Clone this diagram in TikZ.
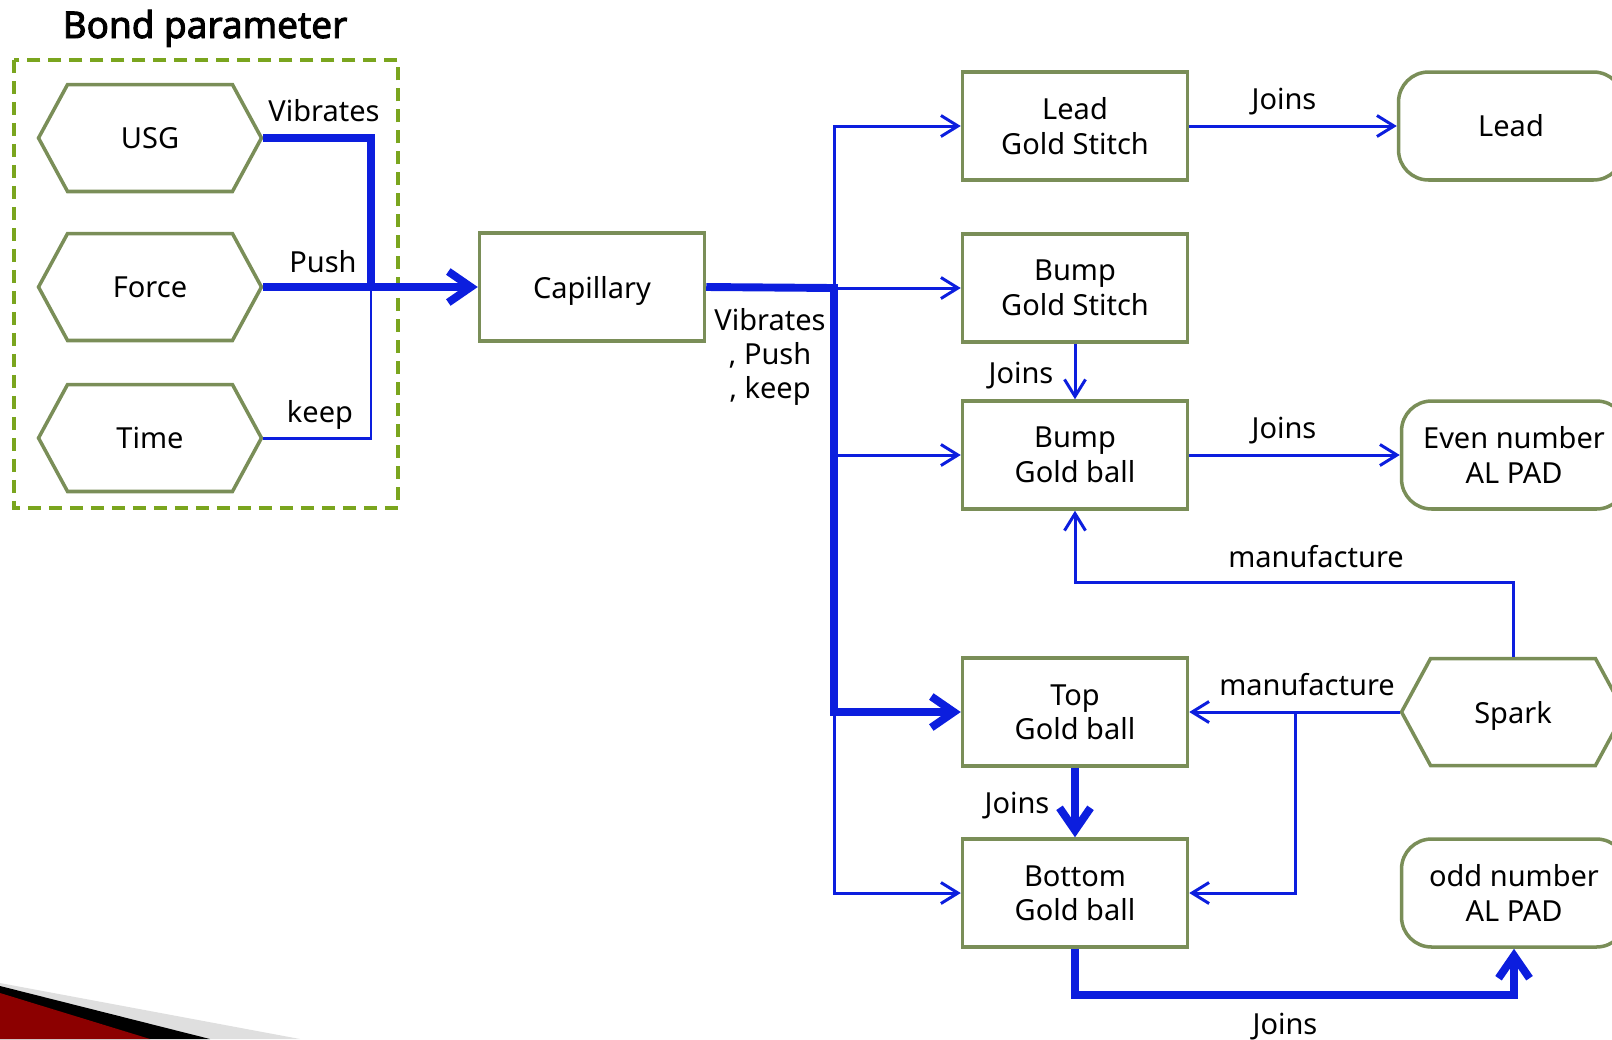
\documentclass[tikz,border=0pt]{standalone}
\usepackage{fontspec}
\setmainfont{Noto Sans}[AutoFakeBold=2.5]
\usetikzlibrary{shapes.symbols,arrows.meta}
\definecolor{olive}{RGB}{122,142,88}
\definecolor{leaf}{RGB}{122,165,30}
\definecolor{wire}{RGB}{12,30,222}
\tikzstyle{param}=[draw=olive, line width=2pt, signal, signal to=east and west, signal pointer angle=123, minimum width=4.46cm, minimum height=2.14cm, inner sep=0pt]
\tikzstyle{part}=[draw=olive, line width=2pt, rectangle, minimum width=4.5cm, minimum height=2.16cm, align=center]
\tikzstyle{target}=[part, rounded corners=0.6cm]
\tikzstyle{flow}=[draw=wire, line width=1.7pt, -{Straight Barb[length=0.34cm, width=0.42cm]}]
\tikzstyle{bus}=[draw=wire, line width=4.5pt]
\tikzstyle{bigflow}=[bus, -{Straight Barb[length=0.45cm, width=0.62cm]}]
\tikzstyle{lbl}=[inner sep=0pt]

\begin{document}
\begin{tikzpicture}[x=0.02cm, y=-0.02cm, font=\fontsize{16.5}{19.6}\selectfont]
	\useasboundingbox (0,0) rectangle (1612,1039);
	% corner swoosh
	\fill[gray!25] (0,983) -- (300,1039) -- (0,1039) -- cycle;
	\fill[black] (0,986) -- (210,1039) -- (0,1039) -- cycle;
	\fill[red!55!black] (0,993) -- (150,1039) -- (0,1039) -- cycle;
	% bond parameters
	\node[lbl, font=\fontsize{21}{24}\selectfont\bfseries, anchor=base] (title) at (205,38) {Bond parameter};
	\draw[leaf, line width=2.3pt, dash pattern=on 0.26cm off 0.16cm] (14,60) rectangle (398,508);
	\node[param] (usg) at (150,138) {USG};
	\node[param] (force) at (150,287) {Force};
	\node[param] (time) at (150,438) {Time};
	\node[part, text depth=0pt] (cap) at (592,287) {Capillary};
	% parts
	\node[part] (lgs) at (1075,126) {Lead\\Gold Stitch};
	\node[part] (bgs) at (1075,288) {Bump\\Gold Stitch};
	\node[part] (bgb) at (1075,455) {Bump\\Gold ball};
	\node[part] (tgb) at (1075,712) {Top\\Gold ball};
	\node[part] (btgb) at (1075,893) {Bottom\\Gold ball};
	\node[target] (lead) at (1511,126) {Lead};
	\node[target] (even) at (1514,455) {Even number\\AL PAD};
	\node[param, text depth=0pt] (spark) at (1513,712) {Spark};
	\node[target] (odd) at (1514,893) {odd number\\AL PAD};
	% parameters into capillary
	\coordinate (jl) at (371,287);
	\draw[bus] (usg.east) -| (jl);
	\draw[flow, -] (time.east) -| (jl);
	\draw[bigflow] (force.east) -- (cap.west);
	\node[lbl] at (324,111) {Vibrates};
	\node[lbl] at (323,262) {Push};
	\node[lbl] at (320,415) {keep};
	% capillary to parts
	\coordinate (jr) at (834,288);
	\draw[flow] (jr) |- (lgs.west);
	\draw[flow] (jr) -- (bgs.west);
	\draw[flow] (jr) |- (bgb.west);
	\draw[flow] (jr) |- (btgb.west);
	\draw[bigflow] (cap.east) -- (jr) |- (tgb.west);
	\node[lbl, align=center] at (770,357) {Vibrates\\, Push\\, keep};
	% joins
	\draw[flow] (lgs.east) -- (lead.west);
	\node[lbl] at (1284,102) {Joins};
	\draw[flow] (bgs.south) -- (bgb.north);
	\node[lbl] at (1021,376) {Joins};
	\draw[flow] (bgb.east) -- (even.west);
	\node[lbl] at (1284,431) {Joins};
	\draw[bigflow] (tgb.south) -- (btgb.north);
	\node[lbl] at (1017,806) {Joins};
	\draw[bigflow] (btgb.south) -- ++(0,46) -| (odd.south);
	\node[lbl] at (1285,1027) {Joins};
	% spark
	\draw[flow] (spark.north) -- ++(0,-74) -| (bgb.south);
	\node[lbl] at (1316,557) {manufacture};
	\draw[flow] (spark.west) -- (tgb.east);
	\node[lbl] at (1307,685) {manufacture};
	\coordinate (sb) at (1295,712);
	\draw[flow] (sb) |- (btgb.east);
\end{tikzpicture}
\end{document}
